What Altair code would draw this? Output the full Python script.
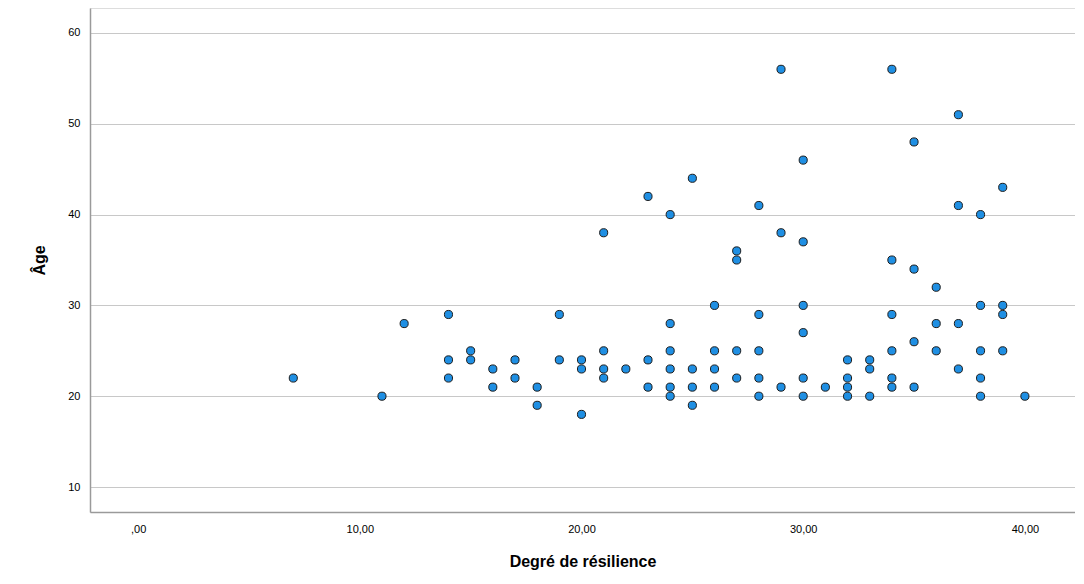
import altair as alt
import pandas as pd

resilience = [7, 11, 12, 14, 14, 14, 15, 15, 16, 16, 17, 17, 18, 18, 19, 19,
              20, 20, 20, 21, 21, 21, 21, 22, 23, 23, 23,
              24, 24, 24, 24, 24, 24, 25, 25, 25, 25,
              26, 26, 26, 26, 27, 27, 27, 27,
              28, 28, 28, 28, 28, 29, 29, 29,
              30, 30, 30, 30, 30, 30, 31, 32, 32, 32, 32, 33, 33, 33,
              34, 34, 34, 34, 34, 34, 35, 35, 35, 35, 36, 36, 36,
              37, 37, 37, 37, 38, 38, 38, 38, 38, 39, 39, 39, 39, 40]
age = [22, 20, 28, 29, 24, 22, 25, 24, 23, 21, 24, 22, 21, 19, 29, 24,
       24, 23, 18, 38, 25, 23, 22, 23, 42, 24, 21,
       40, 28, 25, 23, 21, 20, 44, 23, 21, 19,
       30, 25, 23, 21, 36, 35, 25, 22,
       41, 29, 25, 22, 20, 56, 38, 21,
       46, 37, 30, 27, 22, 20, 21, 24, 22, 21, 20, 24, 23, 20,
       56, 35, 29, 25, 22, 21, 48, 34, 26, 21, 32, 28, 25,
       51, 41, 28, 23, 40, 30, 25, 22, 20, 43, 30, 29, 25, 20]

x_ticks = [0, 10, 20, 30, 40]
y_ticks = [10, 20, 30, 40, 50, 60]

df = pd.DataFrame({"resilience": resilience, "age": age})

font = "Liberation Sans"

chart = alt.Chart(df).mark_point(
    filled=True, shape="circle", size=66, fill="#1f8fe3",
    stroke="#1c1c1c", strokeWidth=1, opacity=1
).encode(
    x=alt.X("resilience:Q",
            scale=alt.Scale(domain=[-2.17, 42.26], nice=False, zero=False),
            axis=alt.Axis(title="Degré de résilience", values=x_ticks, grid=False,
                          ticks=False, domainColor="#9a9a9a", domainWidth=1.5,
                          labelExpr="datum.value == 0 ? ',00' : replace(format(datum.value, '.2f'), '.', ',')",
                          labelFont=font, labelFontSize=11, labelColor="#000000",
                          labelPadding=11, titleFont=font, titleFontSize=16,
                          titleFontWeight="bold", titleColor="#000000", titlePadding=19)),
    y=alt.Y("age:Q",
            scale=alt.Scale(domain=[7.25, 62.75], nice=False, zero=False),
            axis=alt.Axis(title="Âge", values=y_ticks, grid=True, gridColor="#c8c8c8",
                          gridWidth=1.2, ticks=False, domainColor="#9a9a9a", domainWidth=1.5,
                          labelFont=font, labelFontSize=11, labelColor="#000000",
                          labelPadding=10, titleFont=font, titleFontSize=16,
                          titleFontWeight="bold", titleColor="#000000", titlePadding=20)),
).properties(
    width=985, height=504,
    autosize=alt.AutoSizeParams(type="none"),
    padding={"left": 82, "top": 0, "right": 0, "bottom": 62},
).configure_view(strokeWidth=0, stroke="transparent").configure(background="white")

chart.save("out.html", embed_options={"renderer": "svg", "actions": False})
